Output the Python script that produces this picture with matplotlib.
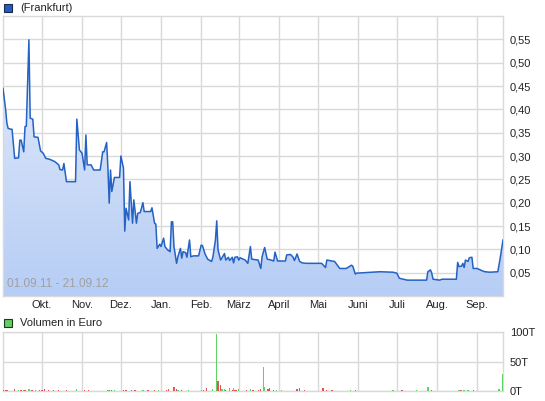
import numpy as np
import pandas as pd
import matplotlib
matplotlib.use('Agg')
import matplotlib.pyplot as plt
import matplotlib.dates as mdates
from matplotlib.colors import LinearSegmentedColormap

plt.rcParams['font.family'] = ['Liberation Sans', 'DejaVu Sans']

# Kurs (Frankfurt), Tage seit 01.09.2011
tage = [0, 2, 3, 4, 7, 9, 12, 13, 14, 16, 17, 18, 20, 21, 23, 24, 27, 29, 31, 33,
        36, 40, 43, 44, 46, 47, 49, 56, 57, 59, 61, 63, 64, 65, 68, 70, 75, 77, 78, 80,
        81, 82, 83, 84, 86, 90, 91, 93, 94, 95, 97, 98, 100, 101, 103, 104, 106, 108, 109, 114,
        115, 117, 118, 119, 121, 122, 124, 125, 127, 129, 130, 131, 132, 134, 135, 137, 138, 139, 141, 142,
        144, 145, 147, 151, 153, 154, 156, 158, 161, 162, 164, 165, 166, 168, 171, 172, 174, 175, 177, 178,
        179, 181, 182, 183, 187, 189, 191, 192, 197, 199, 200, 202, 204, 207, 209, 210, 212, 218, 219, 222,
        224, 225, 227, 229, 231, 234, 246, 249, 250, 254, 256, 260, 265, 269, 270, 272, 273, 291, 301, 304,
        306, 312, 327, 328, 330, 331, 332, 337, 339, 350, 351, 352, 354, 355, 356, 357, 359, 360, 362, 363,
        366, 370, 372, 376, 382, 384, 386]
kurs = [0.445, 0.40, 0.37, 0.359, 0.357, 0.295, 0.296, 0.334, 0.334, 0.309, 0.363, 0.364, 0.549, 0.381, 0.379, 0.341, 0.34, 0.311, 0.306, 0.295,
        0.293, 0.288, 0.281, 0.271, 0.27, 0.284, 0.245, 0.245, 0.379, 0.313, 0.306, 0.27, 0.345, 0.281, 0.281, 0.27, 0.27, 0.309, 0.309, 0.329,
        0.274, 0.199, 0.27, 0.224, 0.254, 0.254, 0.30, 0.274, 0.139, 0.188, 0.163, 0.245, 0.156, 0.206, 0.156, 0.177, 0.179, 0.20, 0.181, 0.181,
        0.189, 0.156, 0.154, 0.102, 0.111, 0.106, 0.124, 0.106, 0.099, 0.095, 0.159, 0.159, 0.106, 0.07, 0.084, 0.102, 0.081, 0.095, 0.093, 0.083,
        0.12, 0.084, 0.086, 0.086, 0.109, 0.108, 0.09, 0.079, 0.074, 0.083, 0.12, 0.161, 0.099, 0.077, 0.091, 0.077, 0.083, 0.076, 0.083, 0.071,
        0.083, 0.084, 0.077, 0.082, 0.077, 0.07, 0.106, 0.079, 0.077, 0.059, 0.084, 0.104, 0.079, 0.077, 0.075, 0.094, 0.075, 0.075, 0.088, 0.089,
        0.083, 0.076, 0.09, 0.074, 0.071, 0.07, 0.07, 0.061, 0.077, 0.075, 0.074, 0.059, 0.059, 0.066, 0.064, 0.047, 0.049, 0.052, 0.051, 0.049,
        0.038, 0.034, 0.034, 0.052, 0.056, 0.049, 0.036, 0.034, 0.036, 0.036, 0.072, 0.063, 0.064, 0.07, 0.061, 0.077, 0.074, 0.082, 0.083, 0.059,
        0.059, 0.054, 0.052, 0.051, 0.052, 0.084, 0.12]

# Volumen in Tsd. Euro (Tag, Wert, steigend=gruen / fallend=rot)
vol_tage = [0, 2, 3, 9, 12, 14, 16, 17, 20, 22, 23, 25, 28, 30, 32, 35, 39, 43, 49, 57,
            63, 66, 81, 82, 84, 86, 93, 95, 99, 102, 108, 112, 117, 120, 126, 128, 132, 134, 135, 138,
            143, 153, 155, 157, 162, 165, 166, 168, 169, 171, 172, 175, 177, 178, 179, 180, 182, 188, 191, 193,
            197, 199, 201, 202, 204, 205, 206, 209, 211, 215, 227, 229, 233, 247, 250, 254, 268, 272, 301, 308,
            319, 328, 331, 352, 353, 354, 356, 359, 363, 383, 386]
vol_wert = [1.1, 1.1, 2.3, 3.4, 2.3, 1.1, 2.3, 1.7, 3.4, 2.3, 1.7, 1.1, 1.1, 2.3, 3.4, 1.1, 1.1, 1.1, 1.1, 3.4,
            1.1, 1.1, 1.7, 2.3, 1.7, 1.1, 2.3, 1.1, 1.1, 1.1, 2.3, 1.1, 1.7, 1.1, 2.3, 2.8, 6.0, 3.4, 2.3, 1.1,
            1.1, 1.1, 2.3, 4.5, 2.8, 97, 17, 10, 3.4, 2.8, 2.3, 4.5, 2.3, 4.5, 1.7, 2.3, 2.8, 1.1, 2.8, 1.1,
            1.1, 2.8, 40, 6.0, 3.4, 3.4, 5.0, 1.1, 1.1, 1.1, 2.8, 4.5, 1.7, 4.5, 1.1, 1.1, 1.1, 1.1, 1.1, 1.7,
            1.1, 6.2, 1.1, 1.7, 2.3, 1.1, 1.1, 2.3, 1.1, 2.8, 28]
vol_gruen = ['r', 'r', 'r', 'r', 'g', 'r', 'g', 'r', 'g', 'r', 'r', 'g', 'r', 'r', 'r', 'r', 'r', 'r', 'r', 'g',
             'r', 'r', 'g', 'r', 'r', 'g', 'r', 'r', 'r', 'r', 'g', 'r', 'r', 'g', 'r', 'r', 'r', 'r', 'g', 'r',
             'g', 'g', 'r', 'r', 'g', 'g', 'r', 'r', 'g', 'g', 'r', 'g', 'r', 'g', 'r', 'r', 'g', 'r', 'g', 'r',
             'r', 'r', 'g', 'g', 'r', 'r', 'r', 'r', 'g', 'g', 'r', 'r', 'r', 'r', 'r', 'r', 'g', 'r', 'g', 'r',
             'g', 'g', 'r', 'g', 'r', 'g', 'g', 'g', 'r', 'g', 'g']

monate = ['Okt.', 'Nov.', 'Dez.', 'Jan.', 'Feb.', 'März', 'April', 'Mai', 'Juni', 'Juli', 'Aug.', 'Sep.']
kurs_ticks = [0.05, 0.10, 0.15, 0.20, 0.25, 0.30, 0.35, 0.40, 0.45, 0.50, 0.55]
kurs_labels = ['0,05', '0,10', '0,15', '0,20', '0,25', '0,30', '0,35', '0,40', '0,45', '0,50', '0,55']
vol_ticks = [0, 50, 100]
vol_labels = ['0T', '50T', '100T']

start = pd.Timestamp('2011-09-01')
ende = pd.Timestamp('2012-09-21')
x = start + pd.to_timedelta(tage, unit='D')
xv = start + pd.to_timedelta(vol_tage, unit='D')
monat_pos = pd.date_range('2011-10-01', '2012-09-01', freq='MS')

W, H = 545, 401
fig = plt.figure(figsize=(W / 100, H / 100), dpi=100)
grid_c = '#d9d9d9'
text_c = '#222222'

# Kurschart
ax = fig.add_axes([3 / W, (H - 296) / H, 500 / W, 280 / H])
ax.set_xlim(start, ende)
ax.set_ylim(0, 0.6)

poly = ax.fill_between(x, kurs, 0, color='none', linewidth=0)
grad = LinearSegmentedColormap.from_list('g', ['#b6cdf5', '#e6eefc'])
img = ax.imshow(np.linspace(0, 1, 256).reshape(-1, 1), cmap=grad, origin='lower', aspect='auto',
                extent=[mdates.date2num(start), mdates.date2num(ende), 0, 0.6], zorder=1)
img.set_clip_path(poly.get_paths()[0], transform=ax.transData)
ax.plot(x, kurs, color='#2462c4', linewidth=1.1, zorder=3)

ax.set_xticks(monat_pos)
ax.set_xticklabels(monate, fontsize=8, color=text_c)
ax.set_yticks(kurs_ticks)
ax.set_yticklabels(kurs_labels, fontsize=8, color=text_c)
ax.yaxis.tick_right()
ax.tick_params(length=0, pad=5)
ax.tick_params(axis='x', pad=3)
ax.grid(True, color=grid_c, linewidth=1, zorder=0)
ax.set_axisbelow(True)
for s in ax.spines.values():
    s.set_color(grid_c)
    s.set_linewidth(1)
ax.text(0.008, 0.02, '01.09.11 - 21.09.12', transform=ax.transAxes, fontsize=8.5,
        color='#a0a0a0', ha='left', va='bottom', zorder=4)

# Volumen
axv = fig.add_axes([3 / W, (H - 391) / H, 500 / W, 59 / H])
axv.set_xlim(start, ende)
axv.set_ylim(0, 100)
farben = ['#5fd35f' if c == 'g' else '#e05555' for c in vol_gruen]
axv.bar(xv, vol_wert, width=1.0, color=farben, linewidth=0, zorder=3)
axv.set_xticks(monat_pos)
axv.set_xticklabels([])
axv.set_yticks(vol_ticks)
axv.set_yticklabels(vol_labels, fontsize=8, color=text_c)
axv.yaxis.tick_right()
axv.tick_params(length=0, pad=5)
axv.grid(True, color=grid_c, linewidth=1, zorder=0)
axv.set_axisbelow(True)
for s in axv.spines.values():
    s.set_color(grid_c)
    s.set_linewidth(1)

# Legenden
fig.patches.append(plt.Rectangle((4 / W, (H - 12) / H), 8 / W, 8 / H, transform=fig.transFigure,
                                 facecolor='#1f5cc4', edgecolor='#1a2a4a', linewidth=0.8))
fig.text(20 / W, (H - 8) / H, '(Frankfurt)', fontsize=8, color=text_c, va='center')
fig.patches.append(plt.Rectangle((4 / W, (H - 327) / H), 8 / W, 8 / H, transform=fig.transFigure,
                                 facecolor='#66cc66', edgecolor='#1a3a1a', linewidth=0.8))
fig.text(20 / W, (H - 323) / H, 'Volumen in Euro', fontsize=8, color=text_c, va='center')

fig.savefig('out.png', dpi=100)
